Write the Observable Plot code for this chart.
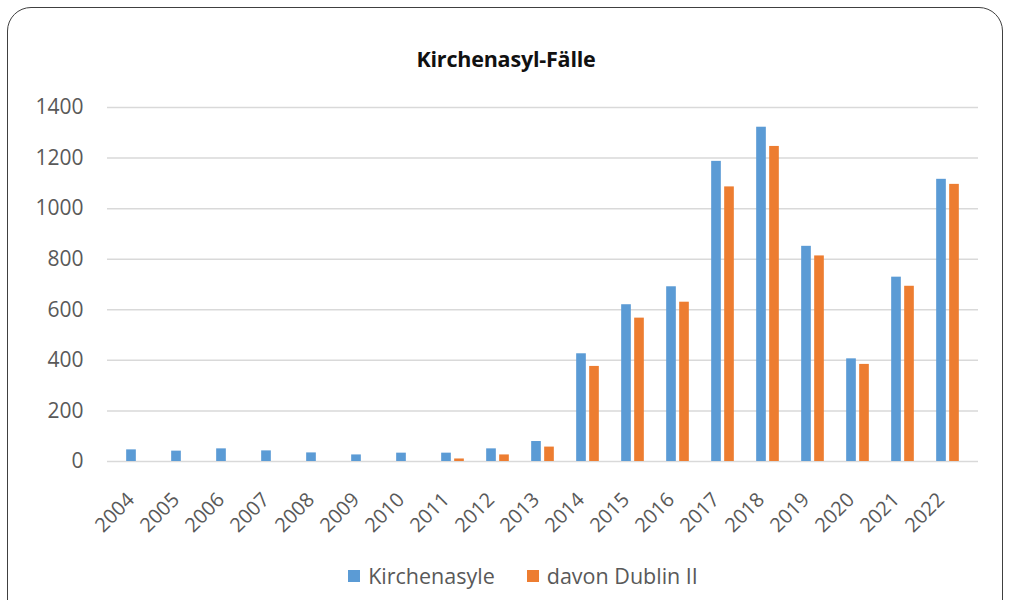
<!DOCTYPE html>
<html><head><meta charset="utf-8">
<script src="https://cdn.jsdelivr.net/npm/d3@7"></script>
<script src="https://cdn.jsdelivr.net/npm/@observablehq/plot@0.6"></script>
<style>
body{margin:0;width:1010px;height:600px;overflow:hidden;background:#fff;font-family:"Open Sans",sans-serif;position:relative}
#frame{position:absolute;left:7px;top:7px;width:996px;height:640px;border:1.5px solid #404040;border-radius:24px;box-sizing:border-box}
#title{position:absolute;left:0;width:1012px;top:44px;text-align:center;font-weight:bold;font-size:21.5px;color:#111;letter-spacing:-0.2px}
#chart{position:absolute;left:0;top:90px}
#legend{position:absolute;left:16px;width:1014px;top:561px;display:flex;justify-content:center;gap:32px;font-size:21.5px;color:#595959}
#legend .item{display:flex;align-items:center}
#legend .sw{width:12px;height:12px;margin-right:8px;display:inline-block}
</style></head>
<body>
<div id="frame"></div>
<div id="title">Kirchenasyl-Fälle</div>
<div id="chart"></div>
<div id="legend"></div>
<script>
const years = ["2004","2005","2006","2007","2008","2009","2010","2011","2012","2013","2014","2015","2016","2017","2018","2019","2020","2021","2022"];
const kirchenasyle = [46,41,50,42,34,26,33,33,50,79,426,620,691,1187,1322,851,406,729,1116];
const dublinII = [null,null,null,null,null,null,null,10,26,57,376,567,630,1086,1246,813,384,693,1096];
const seriesNames = ["Kirchenasyle","davon Dublin II"];
const seriesColors = ["#5B9BD5","#ED7D31"];
const yTicks = [0,200,400,600,800,1000,1200,1400];

const rows = years.map((y,i)=>({year:y, k:kirchenasyle[i], d:dublinII[i]}));

const W = 1010, ML = 107, MR = 32;
const bw = (W - ML - MR) / years.length;
const barW = 10.5, gap = 2.5;
const inA = bw/2 - gap/2 - barW; // outer inset
const inB = bw/2 + gap/2;        // inner inset

const chart = Plot.plot({
  width: W, height: 460,
  marginLeft: ML, marginRight: MR, marginTop: 17, marginBottom: 89,
  style: {fontFamily: "'Open Sans', sans-serif", color: "#595959", background: "transparent", fontSize: "20px"},
  x: {domain: years, padding: 0, label: null},
  y: {domain: [0,1400], label: null},
  marks: [
    Plot.ruleY(yTicks, {stroke: "#d9d9d9", strokeWidth: 1.5}),
    Plot.barY(rows, {x: "year", y: "k", fill: seriesColors[0], insetLeft: inA, insetRight: inB}),
    Plot.barY(rows.filter(d => d.d != null), {x: "year", y: "d", fill: seriesColors[1], insetLeft: inB, insetRight: inA}),
    Plot.axisX({tickSize: 0, tickRotate: -45, tickPadding: 22, dx: -7, dy: 13, fontSize: 20, label: null}),
    Plot.axisY({ticks: yTicks, tickSize: 0, tickPadding: 24, fontSize: 21, label: null, tickFormat: d => String(d)})
  ]
});
document.getElementById("chart").appendChild(chart);

const lg = document.getElementById("legend");
seriesNames.forEach((n,i)=>{
  const it = document.createElement("span"); it.className="item";
  const sw = document.createElement("span"); sw.className="sw"; sw.style.background = seriesColors[i];
  it.appendChild(sw); it.appendChild(document.createTextNode(n));
  lg.appendChild(it);
});
</script>
</body></html>
